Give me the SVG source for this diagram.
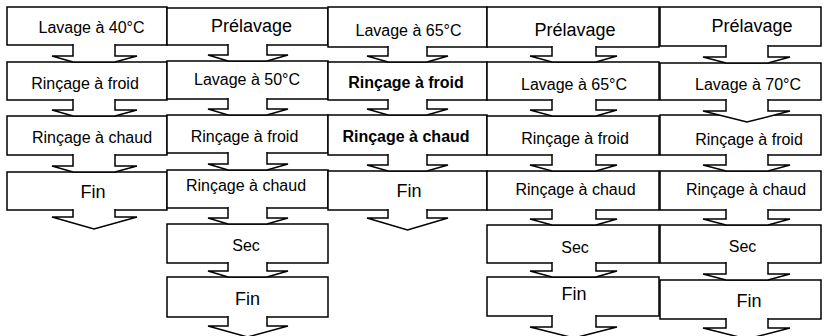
<svg xmlns="http://www.w3.org/2000/svg" width="826" height="336" viewBox="0 0 826 336">
<style>
.b{fill:#fff;stroke:#000;stroke-width:1.5;stroke-linecap:square;stroke-linejoin:miter}
.t{font-family:"Liberation Sans",Arial,sans-serif;font-size:16px;text-anchor:middle;fill:#000}
.l{font-size:18px}
.k{font-weight:bold}
</style>
<rect width="826" height="336" fill="#fff"/>
<g id="col1">
<g id="n1a"><path class="b" d="M115,45H167V7H7V45H73"/><text class="t" x="91.5" y="33">Lavage à 40°C</text></g>
<g id="n1b"><path class="b" d="M115,100H167V62H7V100H73"/><text class="t" x="85" y="89">Rinçage à froid</text></g>
<g id="n1c"><path class="b" d="M115,155H167V116H7V155H73"/><text class="t" x="92" y="143">Rinçage à chaud</text></g>
<g id="n1d"><path class="b" d="M115,210H167V172H7V210H73"/><text class="t l" x="93" y="198">Fin</text></g>
</g>
<g id="col2">
<g id="n2a"><path class="b" d="M267,45H328V8H167V45H228"/><text class="t l" x="251.5" y="32">Prélavage</text></g>
<g id="n2b"><path class="b" d="M267,99H328V61H167V99H228"/><text class="t" x="247" y="85">Lavage à 50°C</text></g>
<g id="n2c"><path class="b" d="M267,153H328V115H167V153H228"/><text class="t" x="244.5" y="142">Rinçage à froid</text></g>
<g id="n2d"><path class="b" d="M267,208H328V170H167V208H228"/><text class="t" x="246" y="191">Rinçage à chaud</text></g>
<g id="n2e"><path class="b" d="M267,263H328V224H167V263H228"/><text class="t" x="246" y="251">Sec</text></g>
<g id="n2f"><path class="b" d="M267,317H328V277H167V317H228"/><text class="t l" x="247.5" y="305">Fin</text></g>
</g>
<g id="col3">
<g id="n3a"><path class="b" d="M427,47H487V7H328V47H388"/><text class="t" x="408.5" y="36">Lavage à 65°C</text></g>
<g id="n3b"><path class="b" d="M427,100H487V62H328V100H388"/><text class="t k" x="406" y="88">Rinçage à froid</text></g>
<g id="n3c"><path class="b" d="M427,155H487V115H328V155H388"/><text class="t k" x="406" y="142">Rinçage à chaud</text></g>
<g id="n3d"><path class="b" d="M427,210H487V171H328V210H388"/><text class="t l" x="409" y="197">Fin</text></g>
</g>
<g id="col4">
<g id="n4a"><path class="b" d="M596,47H659V7H487V47H552"/><text class="t l" x="575" y="36">Prélavage</text></g>
<g id="n4b"><path class="b" d="M596,100H659V62H487V100H552"/><text class="t" x="574" y="90">Lavage à 65°C</text></g>
<g id="n4c"><path class="b" d="M596,155H659V116H487V155H552"/><text class="t" x="575" y="144">Rinçage à froid</text></g>
<g id="n4d"><path class="b" d="M596,210H659V171H487V210H552"/><text class="t" x="575.5" y="195">Rinçage à chaud</text></g>
<g id="n4e"><path class="b" d="M596,263H659V225H487V263H552"/><text class="t" x="575" y="253">Sec</text></g>
<g id="n4f"><path class="b" d="M596,316H659V277H487V316H552"/><text class="t l" x="574" y="300">Fin</text></g>
</g>
<g id="col5">
<g id="n5a"><path class="b" d="M768,46H821V7H660V46H726"/><text class="t l" x="752" y="32">Prélavage</text></g>
<g id="n5b"><path class="b" d="M768,100H821V63H660V100H726"/><text class="t" x="748" y="90">Lavage à 70°C</text></g>
<g id="n5c"><path class="b" d="M768,155H821V115H660V155H726"/><text class="t" x="749" y="145">Rinçage à froid</text></g>
<g id="n5d"><path class="b" d="M768,210H821V171H660V210H726"/><text class="t" x="746" y="195">Rinçage à chaud</text></g>
<g id="n5e"><path class="b" d="M768,263H821V225H660V263H726"/><text class="t" x="742.5" y="252">Sec</text></g>
<g id="n5f"><path class="b" d="M768,319H821V280H660V319H726"/><text class="t l" x="749" y="307">Fin</text></g>
</g>
<g id="connectors">
<path class="b" d="M73,45V56H52L73,62H115L137,56H115V45"/>
<path class="b" d="M73,100V110H52L73,116H115L137,110H115V100"/>
<path class="b" d="M73,155V166H52L73,172H115L137,166H115V155"/>
<path class="b" d="M73,210V217H52L94,229L137,217H115V210"/>
<path class="b" d="M228,45V55H208L228,61H267L288,55H267V45"/>
<path class="b" d="M228,99V109H208L228,115H267L288,109H267V99"/>
<path class="b" d="M228,153V164H208L228,170H267L288,164H267V153"/>
<path class="b" d="M228,208V218H208L228,224H267L288,218H267V208"/>
<path class="b" d="M228,263V271H208L228,277H267L288,271H267V263"/>
<path class="b" d="M228,317V326H208L247.5,337L288,326H267V317"/>
<path class="b" d="M388,47V56H367L388,62H427L448,56H427V47"/>
<path class="b" d="M388,100V109H367L388,115H427L448,109H427V100"/>
<path class="b" d="M388,155V165H367L388,171H427L448,165H427V155"/>
<path class="b" d="M388,210V218H367L407.5,230L448,218H427V210"/>
<path class="b" d="M552,47V56H530L552,62H596L617,56H596V47"/>
<path class="b" d="M552,100V110H530L552,116H596L617,110H596V100"/>
<path class="b" d="M552,155V165H530L552,171H596L617,165H596V155"/>
<path class="b" d="M552,210V219H530L552,225H596L617,219H596V210"/>
<path class="b" d="M552,263V271H530L552,277H596L617,271H596V263"/>
<path class="b" d="M552,316V327H530L574,338L617,327H596V316"/>
<path class="b" d="M726,46V57H703L726,63H768L790,57H768V46"/>
<path class="b" d="M726,100V111H703L747,122L790,111H768V100"/>
<path class="b" d="M726,155V165H703L726,171H768L790,165H768V155"/>
<path class="b" d="M726,210V219H703L726,225H768L790,219H768V210"/>
<path class="b" d="M726,263V274H703L726,280H768L790,274H768V263"/>
<path class="b" d="M726,319V328H703L747,339L790,328H768V319"/>
</g>
</svg>
